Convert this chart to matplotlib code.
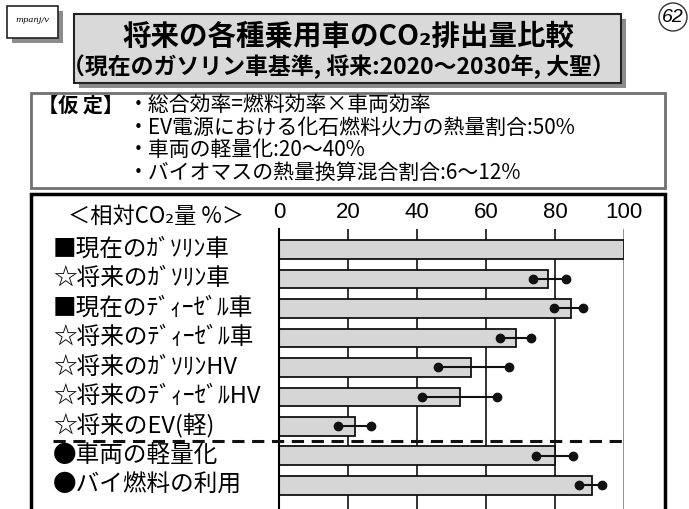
import matplotlib.pyplot as plt
import matplotlib.patches as mpatches
import numpy as np

plt.rcParams['font.family'] = ['Noto Sans CJK JP', 'DejaVu Sans']

# relative CO2 (current gasoline car = 100)
categories = ['■現在のｶﾞｿﾘﾝ車', '☆将来のｶﾞｿﾘﾝ車', '■現在のﾃﾞｨｰｾﾞﾙ車',
              '☆将来のﾃﾞｨｰｾﾞﾙ車', '☆将来のｶﾞｿﾘﾝHV', '☆将来のﾃﾞｨｰｾﾞﾙHV',
              '☆将来のEV(軽)', '●車両の軽量化', '●バイ燃料の利用']
values = [100, 78, 84.5, 68.5, 55.5, 52.5, 22, 80, 90.5]
range_lo = [np.nan, 73.5, 79.5, 64, 46, 41.5, 17, 74.5, 87]
range_hi = [np.nan, 83, 88, 73, 66.5, 63, 26.5, 85, 93.5]
xticks = [0, 20, 40, 60, 80, 100]

title = '将来の各種乗用車のCO₂排出量比較'
subtitle = '（現在のガソリン車基準, 将来:2020～2030年, 大聖）'
assume_head = '【仮 定】'
assumptions = ['・総合効率=燃料効率×車両効率',
               '・EV電源における化石燃料火力の熱量割合:50%',
               '・車両の軽量化:20～40%',
               '・バイオマスの熱量換算混合割合:6～12%']
unit_label = '＜相対CO₂量 %＞'

W, H = 689, 509
fig = plt.figure(figsize=(W / 100, H / 100), dpi=100)

# page layer in pixel coordinates
bg = fig.add_axes([0, 0, 1, 1])
bg.set_xlim(0, W)
bg.set_ylim(H, 0)
bg.axis('off')


def box(x0, y0, x1, y1, fc, ec, lw, shadow=0):
    if shadow:
        bg.add_patch(mpatches.Rectangle((x0 + shadow, y0 + shadow), x1 - x0, y1 - y0,
                                        fc='#8c8c8c', ec='none', zorder=1))
    bg.add_patch(mpatches.Rectangle((x0, y0), x1 - x0, y1 - y0,
                                    fc=fc, ec=ec, lw=lw, zorder=2))


# logo
box(7, 6, 58, 38, 'white', '#222', 1.2, shadow=5)
bg.text(32, 20, 'mpanj/v', fontsize=6, style='italic', ha='center', va='center',
        family='DejaVu Serif', zorder=3)

# page number
bg.add_patch(mpatches.Circle((673, 17), 14, fc='none', ec='#333', lw=1))
bg.text(673, 17, '62', fontsize=14, style='italic', ha='center', va='center',
        family='Liberation Sans')

# title
box(74, 14, 621, 83, '#d9d9d9', '#222', 1.5, shadow=5)
bg.text(348, 37, title, fontsize=20.5, weight='bold', ha='center', va='center', zorder=3)
bg.text(338, 67, subtitle, fontsize=16.5, weight='bold', ha='center', va='center', zorder=3)

# assumptions
box(31, 93, 665, 188, 'white', '#707070', 2)
bg.text(38, 105, assume_head, fontsize=14.5, weight='bold', ha='left', va='center', zorder=3)
for i, line in enumerate(assumptions):
    bg.text(128, 105 + 22.5 * i, line, fontsize=15, ha='left', va='center', zorder=3)

# chart frame
box(31, 194, 665, 540, 'white', 'black', 2.5)
bg.text(156, 216, unit_label, fontsize=16, ha='center', va='center', zorder=3)

# bar chart
ax = fig.add_axes([279.3 / W, 0, 345 / W, 280 / H])
ax.set_facecolor('none')
ypos = np.arange(len(categories))
ax.set_xlim(0, 100)
ax.set_ylim(8.8, -0.695)

for x in xticks[1:]:
    ax.axvline(x, color='#888' if x == 100 else '#222', lw=1.3, zorder=1)

ax.barh(ypos, values, height=0.64, color='#d6d6d6', edgecolor='#111', lw=1.3, zorder=2)
ax.hlines(ypos, range_lo, range_hi, color='#111', lw=1.5, zorder=3)
ax.plot(range_lo, ypos, 'o', color='#111', ms=6, zorder=4)
ax.plot(range_hi, ypos, 'o', color='#111', ms=6, zorder=4)

# separator between vehicle types and measures
ax.axhline(6.5, xmin=-0.656, xmax=1.0, color='#111', lw=2.2, ls=(0, (4, 2.5)),
           clip_on=False, zorder=5)

for i, lab in enumerate(categories):
    ax.text(-0.656, ypos[i], lab, transform=ax.get_yaxis_transform(), fontsize=17,
            ha='left', va='center')

ax.xaxis.tick_top()
ax.set_xticks(xticks)
ax.set_xticklabels([str(t) for t in xticks], family='Liberation Sans', fontsize=16)
ax.tick_params(axis='x', length=0, pad=4)
ax.set_yticks([])
for s in ['top', 'right', 'bottom']:
    ax.spines[s].set_visible(False)
ax.spines['left'].set_linewidth(1.5)

fig.savefig('out.png', dpi=100)
